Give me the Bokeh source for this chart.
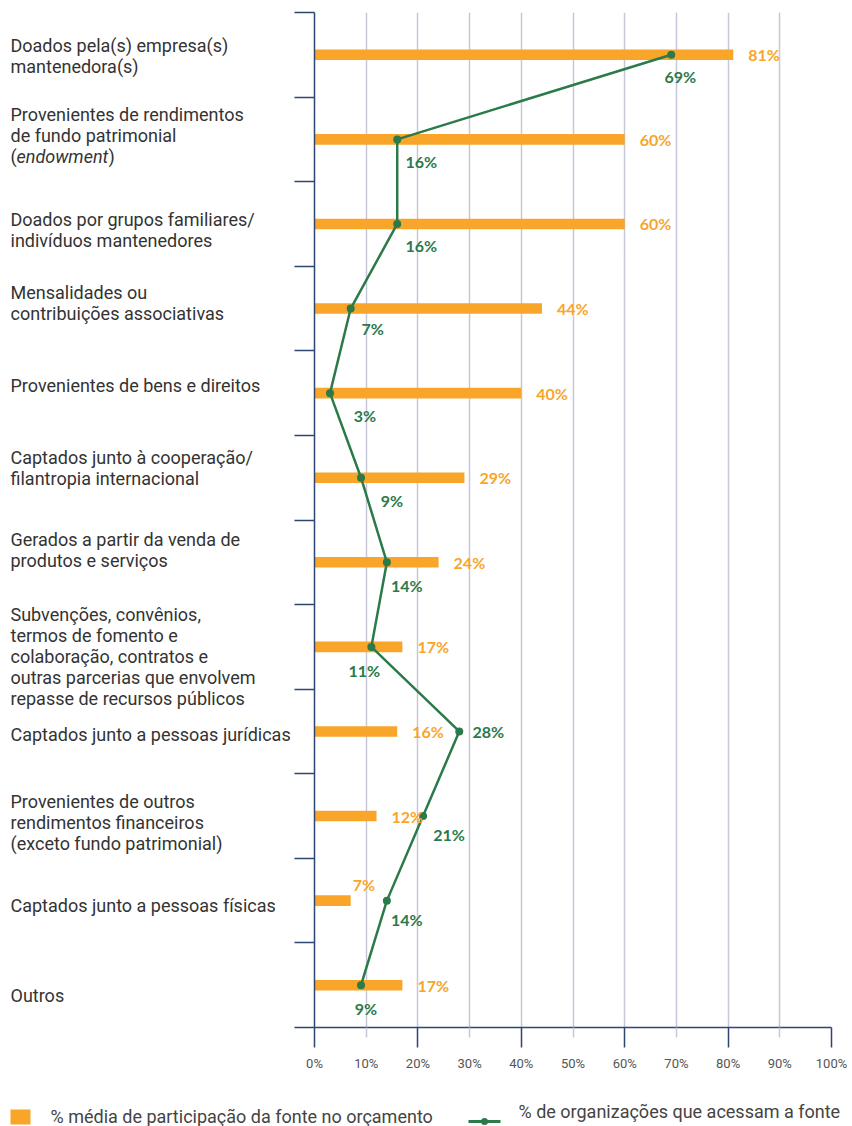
from bokeh.plotting import figure
from bokeh.models import FixedTicker, Range1d, ColumnDataSource, LinearAxis
from bokeh.layouts import row, column
from bokeh.core.properties import value
from bokeh.embed import file_html
from bokeh.resources import INLINE

# ---------------- data ----------------
categories = [
    "Doados pela(s) empresa(s)\nmantenedora(s)",
    "Provenientes de rendimentos\nde fundo patrimonial\n(endowment)",
    "Doados por grupos familiares/\nindivíduos mantenedores",
    "Mensalidades ou\ncontribuições associativas",
    "Provenientes de bens e direitos",
    "Captados junto à cooperação/\nfilantropia internacional",
    "Gerados a partir da venda de\nprodutos e serviços",
    "Subvenções, convênios,\ntermos de fomento e\ncolaboração, contratos e\noutras parcerias que envolvem\nrepasse de recursos públicos",
    "Captados junto a pessoas jurídicas",
    "Provenientes de outros\nrendimentos financeiros\n(exceto fundo patrimonial)",
    "Captados junto a pessoas físicas",
    "Outros",
]
budget_share = [81, 60, 60, 44, 40, 29, 24, 17, 16, 12, 7, 17]
org_access = [69, 16, 16, 7, 3, 9, 14, 11, 28, 21, 14, 9]
x_ticks = [0, 10, 20, 30, 40, 50, 60, 70, 80, 90, 100]
x_tick_labels = ["0%", "10%", "20%", "30%", "40%", "50%", "60%", "70%", "80%", "90%", "100%"]
legend_labels = ["% média de participação da fonte no orçamento",
                 "% de organizações que acessam a fonte"]

# ---------------- style ----------------
ORANGE = "#F8A52A"
GREEN = "#2B7A4A"
NAVY = "#2E4672"
GRID = "#C6C7D8"
TEXT = "#333333"
FONT = "Roboto"
VFONT = "Lato"

# label nudges (pixels, positive = down)
cat_label_nudge = [1, -4, 6, -6, -8, -10, -12, 10, 3, 6, 5, 10]
green_dx = [9, 24, 24, 22, 35, 31, 20, -7, 29, 26, 20, 5]
green_dy = [22, 22, 22, 20, 22, 23, 23, 24, 0, 18, 19, 23]
orange_dx = [15] * 12
orange_dy = [0] * 12
orange_dx[10] = 2
orange_dy[10] = -16

N = len(categories)
y_center = [N - i - 0.5 for i in range(N)]

TOP = 12
FRAME_H = 1015
BOTTOM = 65
LEFT_W = 292

y_range = Range1d(0, N)

# ---------------- main chart ----------------
p = figure(frame_width=517, frame_height=FRAME_H,
           min_border_left=22, min_border_right=21,
           min_border_top=TOP, min_border_bottom=BOTTOM,
           x_range=Range1d(0, 100), y_range=y_range,
           output_backend="svg", toolbar_location=None)
p.outline_line_color = None

p.ygrid.grid_line_color = None
p.xgrid.ticker = FixedTicker(ticks=x_ticks[1:])
p.xgrid.grid_line_color = GRID
p.xgrid.grid_line_width = 1.5

major = [t for t in x_ticks if t % 20 == 0]
minor = [t for t in x_ticks if t % 20 != 0]
xa = p.xaxis[0]
xa.ticker = FixedTicker(ticks=major, minor_ticks=minor)
xa.major_label_overrides = {t: "" for t in major}
xa.major_label_standoff = 0
xa.axis_line_color = NAVY
xa.axis_line_width = 1.5
xa.major_tick_line_color = NAVY
xa.major_tick_line_width = 1.5
xa.major_tick_out = 20
xa.major_tick_in = 0
xa.minor_tick_line_color = GRID
xa.minor_tick_line_width = 1.5
xa.minor_tick_out = 10
xa.minor_tick_in = 0

xa2 = LinearAxis(ticker=FixedTicker(ticks=x_ticks),
                 major_label_overrides=dict(zip(x_ticks, x_tick_labels)),
                 axis_line_color=None, major_tick_line_color=None,
                 minor_tick_line_color=None, major_tick_out=0, major_tick_in=0,
                 major_label_standoff=8,
                 major_label_text_font=FONT, major_label_text_font_size="13px",
                 major_label_text_color="#555555")
p.add_layout(xa2, "below")

ya = p.yaxis[0]
ya.ticker = FixedTicker(ticks=list(range(N + 1)))
ya.major_label_overrides = {i: "" for i in range(N + 1)}
ya.major_label_standoff = 0
ya.axis_line_color = NAVY
ya.axis_line_width = 1.5
ya.major_tick_line_color = NAVY
ya.major_tick_line_width = 1.5
ya.major_tick_out = 20
ya.major_tick_in = 0
ya.minor_tick_line_color = None

p.hbar(y=y_center, left=0, right=budget_share, height=0.125,
       fill_color=ORANGE, line_color=None)
p.line(x=org_access, y=y_center, line_color=GREEN, line_width=2.5)
p.scatter(x=org_access, y=y_center, size=8, fill_color=GREEN, line_color=None)

osrc = ColumnDataSource(dict(x=budget_share, y=y_center,
                             t=[f"{v}%" for v in budget_share],
                             dx=orange_dx, dy=orange_dy))
p.text(x="x", y="y", text="t", x_offset="dx", y_offset="dy", source=osrc,
       text_color=ORANGE, text_font=value(VFONT), text_font_style="bold",
       text_font_size="16px", text_align="left", text_baseline="middle")
gsrc = ColumnDataSource(dict(x=org_access, y=y_center,
                             t=[f"{v}%" for v in org_access],
                             dx=green_dx, dy=green_dy))
p.text(x="x", y="y", text="t", x_offset="dx", y_offset="dy", source=gsrc,
       text_color=GREEN, text_font=value(VFONT), text_font_style="bold",
       text_font_size="16px", text_align="center", text_baseline="middle")

# ---------------- category labels (left panel) ----------------
lp = figure(frame_width=LEFT_W, frame_height=FRAME_H,
            min_border_left=0, min_border_right=0,
            min_border_top=TOP, min_border_bottom=BOTTOM,
            x_range=Range1d(0, LEFT_W), y_range=y_range,
            x_axis_type=None, y_axis_type=None,
            output_backend="svg", toolbar_location=None)
lp.outline_line_color = None
lp.grid.visible = False

LINE_H = 21
LX = 10
rx, ry, rt, roff = [], [], [], []
ix, iy, it, ioff = [], [], [], []
for i, cat in enumerate(categories):
    lines = cat.split("\n")
    n = len(lines)
    for k, line in enumerate(lines):
        off = (k - (n - 1) / 2) * LINE_H + cat_label_nudge[i]
        if line == "(endowment)":
            rx += [LX, LX + 98]; ry += [y_center[i]] * 2; rt += ["(", ")"]; roff += [off, off]
            ix.append(LX + 6); iy.append(y_center[i]); it.append("endowment"); ioff.append(off)
        else:
            rx.append(LX); ry.append(y_center[i]); rt.append(line); roff.append(off)

lp.text(x="x", y="y", text="t", y_offset="o",
        source=ColumnDataSource(dict(x=rx, y=ry, t=rt, o=roff)),
        text_font=value(FONT), text_font_size="18px", text_color=TEXT,
        text_baseline="middle", text_align="left")
lp.text(x="x", y="y", text="t", y_offset="o",
        source=ColumnDataSource(dict(x=ix, y=iy, t=it, o=ioff)),
        text_font=value(FONT), text_font_size="18px", text_color=TEXT,
        text_font_style="italic", text_baseline="middle", text_align="left")

# ---------------- legend strip ----------------
LEG_W, LEG_H = 852, 34
lg = figure(frame_width=LEG_W, frame_height=LEG_H,
            min_border_left=0, min_border_right=0, min_border_top=0, min_border_bottom=0,
            x_range=Range1d(0, LEG_W), y_range=Range1d(0, LEG_H),
            x_axis_type=None, y_axis_type=None,
            output_backend="svg", toolbar_location=None)
lg.outline_line_color = None
lg.grid.visible = False
lg.quad(left=[10], right=[30], bottom=[2], top=[17], fill_color=ORANGE, line_color=None)
lg.text(x=[50], y=[10], text=[legend_labels[0]], text_font=value(FONT),
        text_font_size="18px", text_color="#444444", text_baseline="middle")
lg.line(x=[468, 500], y=[5, 5], line_color=GREEN, line_width=3)
lg.scatter(x=[484], y=[5], size=7, fill_color=GREEN, line_color=None)
lg.text(x=[518], y=[15], text=[legend_labels[1]], text_font=value(FONT),
        text_font_size="18px", text_color="#444444", text_baseline="middle")

layout = column(row(lp, p, spacing=0), lg, spacing=0)
open("out.html", "w").write(file_html(layout, INLINE))
